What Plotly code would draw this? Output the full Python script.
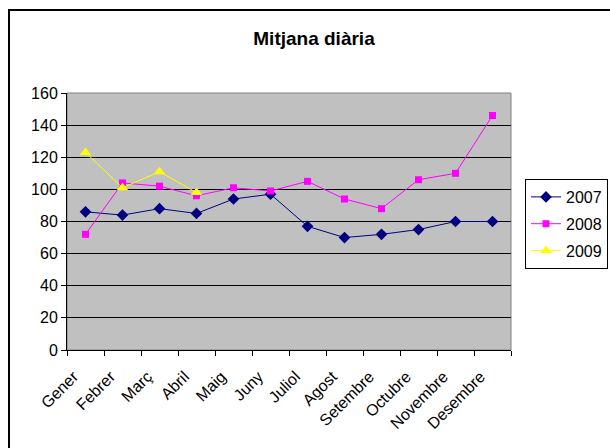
import plotly.graph_objects as go

months = ["Gener", "Febrer", "Març", "Abril", "Maig", "Juny", "Juliol",
          "Agost", "Setembre", "Octubre", "Novembre", "Desembre"]
v2007 = [86, 84, 88, 85, 94, 97, 77, 70, 72, 75, 80, 80]
v2008 = [72, 104, 102, 96, 101, 99, 105, 94, 88, 106, 110, 146]
v2009 = [123, 101, 111, 98]
yticks = [0, 20, 40, 60, 80, 100, 120, 140, 160]

FONT = "Liberation Sans, Arial, sans-serif"

fig = go.Figure()
fig.add_trace(go.Scatter(x=months, y=v2007, name="2007", mode="lines+markers",
                         legendgroup="a",
                         line=dict(color="#000080", width=1),
                         marker=dict(symbol="diamond", size=9, color="#000080")))
fig.add_trace(go.Scatter(x=months, y=v2008, name="2008", mode="lines+markers",
                         legendgroup="b",
                         line=dict(color="#FF00FF", width=1),
                         marker=dict(symbol="square", size=7, color="#FF00FF")))
fig.add_trace(go.Scatter(x=months[:len(v2009)], y=v2009, name="2009", mode="lines+markers",
                         legendgroup="c",
                         line=dict(color="#FFFF00", width=1),
                         marker=dict(symbol="triangle-up", size=10, color="#FFFF00")))

L, R, T, B = 67, 99, 93, 98
W, H = 610, 448
pw, ph = W - L - R, H - T - B

def px(x):
    return (x - L) / pw

def py(y):
    return (H - B - y) / ph

fig.update_layout(
    width=W, height=H,
    margin=dict(l=L, r=R, t=T, b=B, pad=0, autoexpand=False),
    paper_bgcolor="white",
    plot_bgcolor="#C0C0C0",
    font=dict(family=FONT, size=16, color="black"),
    title=dict(text="<b>Mitjana diària</b>", x=314 / W, xanchor="center",
               y=1 - 38 / H, yanchor="middle", font=dict(size=19, family=FONT)),
    showlegend=True,
    legend=dict(x=px(525), y=py(179), xanchor="left", yanchor="top",
                bgcolor="white", bordercolor="black", borderwidth=1,
                font=dict(size=16, family=FONT), tracegroupgap=3,
                traceorder="grouped", itemwidth=30,
                entrywidth=80, entrywidthmode="pixels"),
    xaxis=dict(type="category", categoryorder="array", categoryarray=months,
               range=[-0.5, 11.5], tickangle=-45, tickson="boundaries",
               ticks="outside", ticklen=5, tickcolor="black",
               ticklabelstandoff=10, ticklabelshift=-12,
               showline=True, linecolor="black", linewidth=1, automargin=False,
               showgrid=False, zeroline=False, fixedrange=True,
               tickfont=dict(size=16)),
    yaxis=dict(range=[0, 160], tickvals=yticks, ticks="outside", ticklen=5,
               tickcolor="black", showline=True, linecolor="black", linewidth=1,
               showgrid=True, gridcolor="black", gridwidth=1, zeroline=False,
               automargin=False, fixedrange=True, tickfont=dict(size=16)),
    shapes=[
        dict(type="rect", xref="paper", yref="paper", x0=0, x1=1, y0=0, y1=1,
             line=dict(color="#808080", width=1), layer="below"),
        dict(type="rect", xref="paper", yref="paper",
             x0=px(9), x1=px(614), y0=py(454), y1=py(10),
             line=dict(color="black", width=2), layer="above"),
    ],
)

fig.write_html("out.html", config={"displayModeBar": False},
               post_script="document.body.style.margin='0';document.body.style.overflow='hidden';")
